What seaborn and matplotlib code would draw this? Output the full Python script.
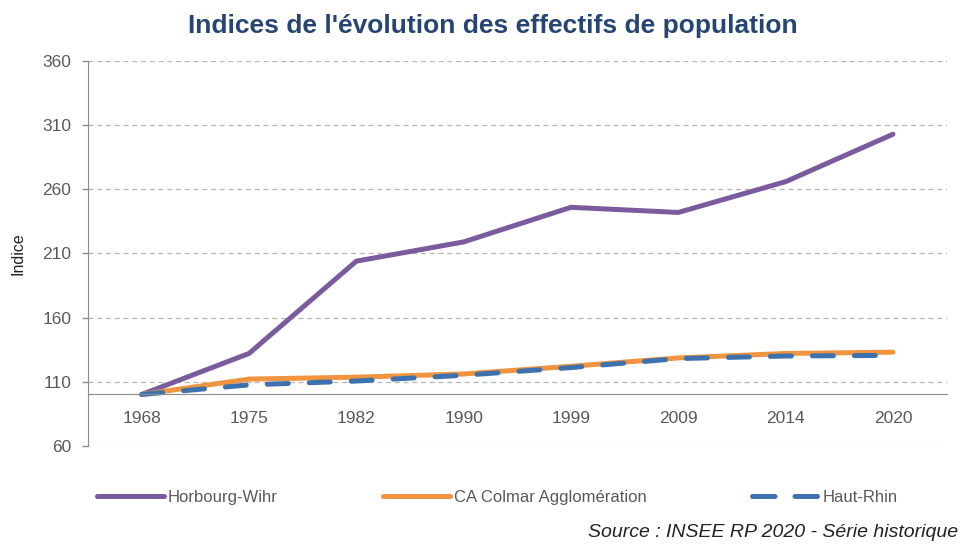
import numpy as np
import pandas as pd
import seaborn as sns
import matplotlib
matplotlib.use("Agg")
import matplotlib.pyplot as plt

years = ['1968', '1975', '1982', '1990', '1999', '2009', '2014', '2020']
horbourg = [100, 132, 204, 219, 246, 242, 266, 303]
colmar = [100, 112, 113.5, 116, 122, 128.5, 132, 133]
haut_rhin = [100, 107.5, 110.5, 115, 121, 128, 130, 130.5]
series = ['Horbourg-Wihr', 'CA Colmar Agglomération', 'Haut-Rhin']
colors = ['#7a5c9e', '#f0943f', '#3e72ae']
yticks = [60, 110, 160, 210, 260, 310, 360]

df = pd.DataFrame({
    'annee': years * 3,
    'indice': horbourg + colmar + haut_rhin,
    'serie': np.repeat(series, len(years)),
})
df['x'] = df['annee'].map({y: i for i, y in enumerate(years)})

sns.set_style('white')
plt.rcParams['font.family'] = ['Liberation Sans', 'DejaVu Sans']

grey = '#595959'
fig = plt.figure(figsize=(9.62, 5.51), dpi=100)
ax = fig.add_axes([0.0915, 0.191, 0.8925, 0.698])

sns.lineplot(data=df, x='x', y='indice', hue='serie', style='serie',
             palette=dict(zip(series, colors)),
             dashes={series[0]: '', series[1]: '', series[2]: (4.2, 4.2)},
             linewidth=3.6, ax=ax, legend=False, sort=False)
for line in ax.get_lines():
    line.set_dash_capstyle('round')
    line.set_solid_capstyle('round')

ax.set_ylim(60, 360)
ax.set_xlim(-0.5, len(years) - 0.5)
ax.set_yticks(yticks)
ax.yaxis.grid(True, linestyle=(0, (4, 3)), color='#b5b5b5', linewidth=0.9)
ax.set_axisbelow(True)

for s in ['top', 'right']:
    ax.spines[s].set_visible(False)
ax.spines['left'].set_color('#8c8c8c')
ax.spines['bottom'].set_color('#8c8c8c')
ax.spines['bottom'].set_position(('data', 100))

ax.set_xticks(range(len(years)))
ax.set_xticklabels(years)
ax.set_xticks(np.arange(0.5, len(years) - 1, 1), minor=True)
ax.tick_params(axis='x', which='major', length=0, pad=12, labelsize=12.5, labelcolor=grey)
ax.tick_params(axis='x', which='minor', length=6, width=1, color='#8c8c8c', direction='out')
ax.tick_params(axis='y', which='major', length=4, width=1, color='#8c8c8c', left=True,
               labelsize=12.5, labelcolor=grey, pad=8)

ax.set_xlabel('')
ax.set_ylabel('Indice', fontsize=11.5, color='#222222', labelpad=12)

fig.text(0.512, 0.953, "Indices de l'évolution des effectifs de population",
         ha='center', va='center', fontsize=19, fontweight='bold', color='#264573')

handles = [plt.Line2D([], [], color=colors[0], lw=3.6, solid_capstyle='round'),
           plt.Line2D([], [], color=colors[1], lw=3.6, solid_capstyle='round'),
           plt.Line2D([], [], color=colors[2], lw=3.6, dashes=(4.5, 4), dash_capstyle='round')]
fig.legend(handles, series, loc='center', bbox_to_anchor=(0.517, 0.098), ncol=3,
           frameon=False, handlelength=4.0, handletextpad=0.25, columnspacing=6.3,
           prop={'size': 12}, labelcolor=grey)

fig.text(0.996, 0.018, 'Source : INSEE RP 2020 - Série historique', ha='right', va='bottom',
         fontsize=14, style='italic', color='#222222')

fig.savefig('out.png', dpi=100)
